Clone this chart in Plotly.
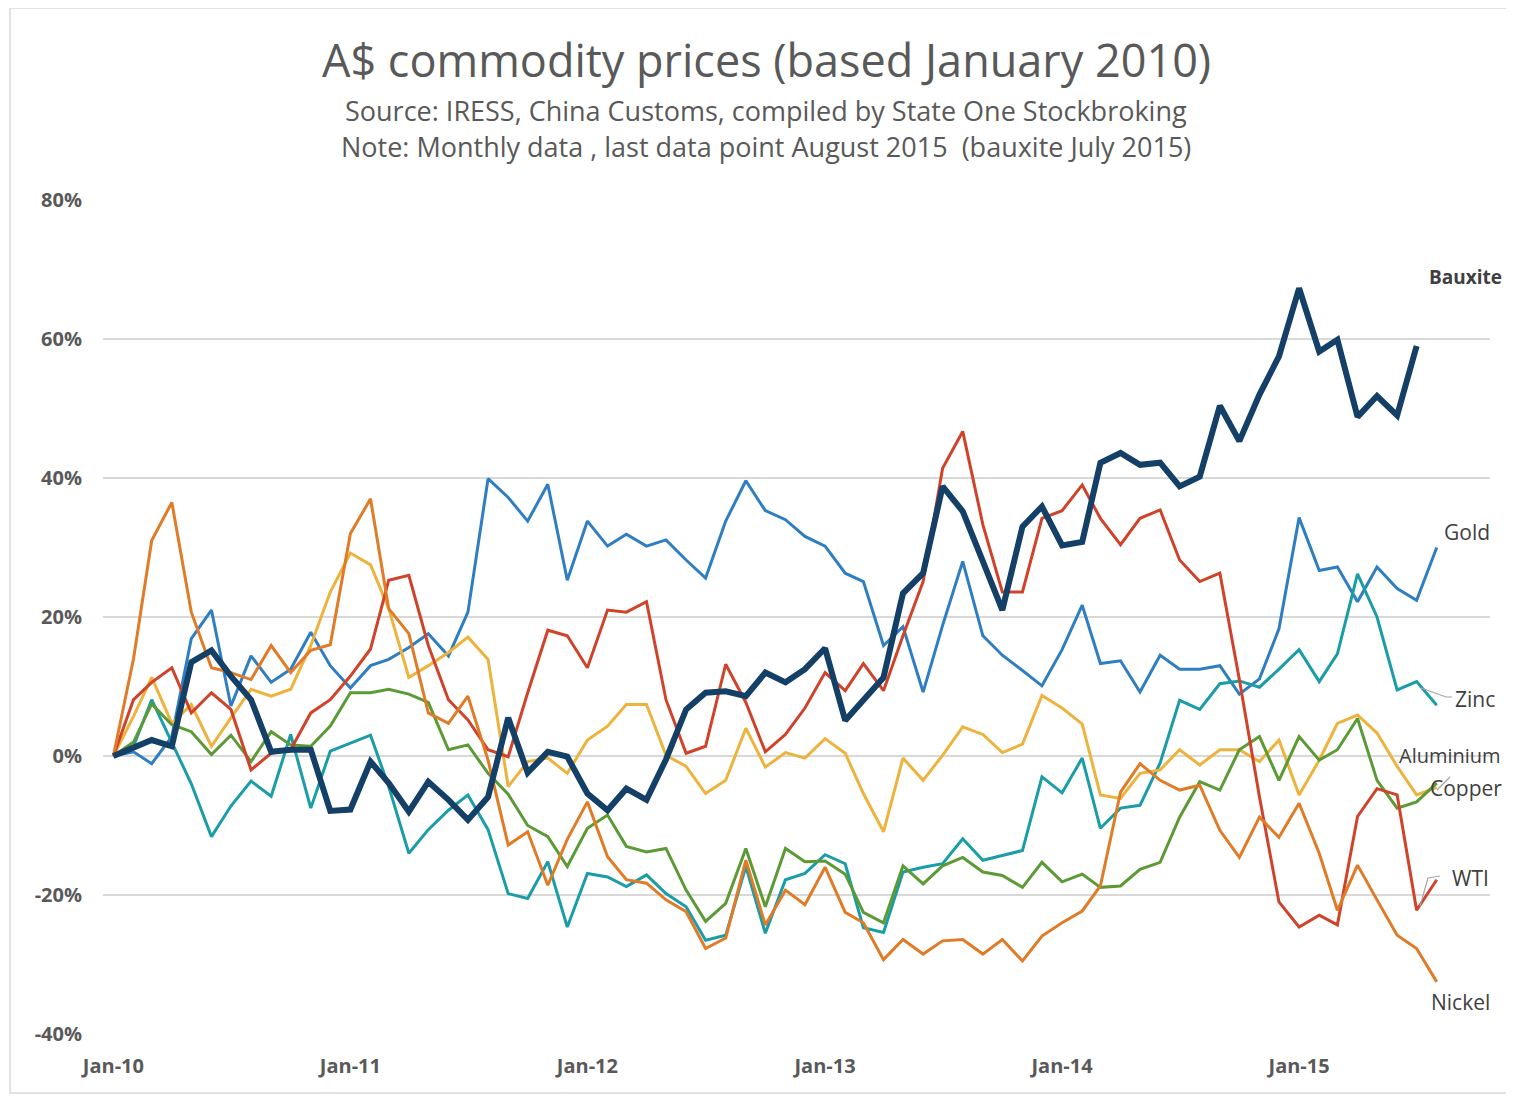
import pandas as pd
import plotly.graph_objects as go

months = pd.date_range("2010-01-01", periods=68, freq="MS")
tick_vals = pd.date_range("2010-01-01", periods=6, freq="12MS")
tick_text = ["Jan-10", "Jan-11", "Jan-12", "Jan-13", "Jan-14", "Jan-15"]
y_ticks = [-40, -20, 0, 20, 40, 60, 80]
y_text = ["-40%", "-20%", "0%", "20%", "40%", "60%", "80%"]

gold = [0, 0.6, -1.1, 2.8, 16.9, 21, 7.2, 14.4, 10.6, 12.5, 17.8, 13,
        9.8, 13, 13.9, 15.6, 17.6, 14.4, 20.7, 39.9, 37.2, 33.8, 39.1, 25.3,
        33.8, 30.2, 31.9, 30.2, 31.1, 28.2, 25.6, 33.8, 39.6, 35.3, 34, 31.6,
        30.2, 26.3, 25.1, 15.9, 18.6, 9.2, 18.8, 28, 17.3, 14.5, 12.3, 10.1,
        15.3, 21.7, 13.3, 13.7, 9.2, 14.5, 12.5, 12.5, 13, 8.9, 11.1, 18.3,
        34.3, 26.7, 27.2, 22.2, 27.2, 24.1, 22.4, 30]
zinc = [0, 1.4, 8.1, 2, -4, -11.6, -7.2, -3.6, -5.8, 3.1, -7.5, 0.7,
        1.8, 3, -4.4, -14, -10.6, -7.8, -5.6, -10.6, -19.8, -20.5, -15.2, -24.6,
        -16.9, -17.4, -18.8, -17.1, -19.8, -21.7, -26.5, -25.8, -15.9, -25.5, -17.8, -16.9,
        -14.2, -15.5, -24.7, -25.4, -16.7, -16, -15.5, -11.9, -15, -14.3, -13.6, -3,
        -5.3, -0.3, -10.4, -7.5, -7.1, -1, 8, 6.7, 10.4, 10.8, 9.9, 12.5,
        15.3, 10.7, 14.7, 26.2, 20, 9.5, 10.7, 7.3]
aluminium = [0, 5.7, 11.3, 4.7, 7.4, 1.4, 5.5, 9.6, 8.6, 9.6, 15.9, 23.6,
             29.2, 27.5, 21.2, 11.3, 13, 14.9, 17.1, 13.9, -4.4, -0.8, -0.3, -2.5,
             2.3, 4.3, 7.4, 7.4, 0.1, -1.5, -5.4, -3.5, 4, -1.6, 0.5, -0.3,
             2.5, 0.4, -5.4, -10.9, -0.3, -3.5, 0.1, 4.2, 3.1, 0.5, 1.7, 8.7,
             6.9, 4.6, -5.6, -6.1, -2.5, -2, 0.9, -1.3, 0.9, 0.9, -0.8, 2.3,
             -5.6, -0.6, 4.7, 5.9, 3.3, -1.5, -5.6, -4.5]
copper = [0, 2, 7.5, 4.5, 3.5, 0.2, 3, -0.8, 3.5, 1.6, 1.4, 4.3,
          9.1, 9.1, 9.6, 8.9, 7.7, 0.9, 1.6, -2.5, -5.5, -10, -11.6, -15.9,
          -10.4, -8.5, -13, -13.8, -13.3, -19.3, -23.8, -21.2, -13.3, -21.7, -13.3, -15.2,
          -15.1, -17, -22.5, -24, -15.8, -18.4, -15.8, -14.6, -16.7, -17.2, -18.9, -15.3,
          -18.1, -17, -18.9, -18.7, -16.3, -15.3, -8.8, -3.7, -4.9, 0.9, 2.8, -3.5,
          2.8, -0.6, 0.9, 5.4, -3.5, -7.5, -6.6, -3.9]
wti = [0, 8.1, 10.6, 12.7, 6.2, 9.1, 6.7, -2, 0.4, 0.9, 6.2, 8.1,
       11.5, 15.4, 25.3, 26, 15.9, 8.1, 5.2, 0.9, -0.1, 9.1, 18.1, 17.3,
       12.7, 21, 20.7, 22.2, 8.1, 0.4, 1.4, 13.2, 7.7, 0.6, 3.1, 6.9,
       12, 9.4, 13.3, 9.4, 17.3, 25.1, 41.4, 46.7, 33.3, 23.6, 23.6, 34.2,
       35.3, 39, 34.2, 30.4, 34.2, 35.4, 28.2, 25.1, 26.3, 11, -5.9, -21,
       -24.6, -22.9, -24.3, -8.7, -4.7, -5.6, -22.2, -17.8]
nickel = [0, 14, 31, 36.5, 20.7, 12.7, 12, 11, 15.9, 12, 15.2, 16,
          32, 37, 21.2, 17.6, 6.2, 4.7, 8.6, -0.6, -12.8, -10.9, -18.6, -12,
          -6.6, -14.5, -17.8, -18.3, -20.7, -22.4, -27.7, -26.2, -15, -24.3, -19.3, -21.4,
          -16, -22.5, -24, -29.3, -26.4, -28.5, -26.6, -26.4, -28.5, -26.4, -29.5, -25.9,
          -24, -22.3, -18.7, -5.2, -1.1, -3.5, -4.9, -4.2, -10.7, -14.6, -8.8, -11.7,
          -6.8, -14, -22.2, -15.7, -20.7, -25.8, -27.7, -32.5]
bauxite = [0, 1.1, 2.3, 1.4, 13.5, 15.2, 11.5, 8.1, 0.6, 0.9, 0.9, -7.9,
           -7.7, -0.8, -3.9, -8, -3.7, -6.3, -9.2, -5.9, 5.5, -2.4, 0.6, -0.1,
           -5.4, -7.8, -4.7, -6.3, -0.5, 6.7, 9.1, 9.3, 8.6, 12, 10.6, 12.5,
           15.5, 5.1, 8.2, 11.3, 23.4, 26.3, 38.8, 35.2, 28, 21, 33, 35.9,
           30.3, 30.8, 42.2, 43.6, 41.9, 42.2, 38.8, 40.2, 50.4, 45.3, 52, 57.5,
           67.3, 58.2, 59.9, 48.8, 51.8, 49, 59]

series = [
    ("Gold", gold, "#2E7EC1", 3),
    ("Zinc", zinc, "#1A9DA6", 3),
    ("Aluminium", aluminium, "#EDB33C", 3),
    ("Copper", copper, "#5C9A36", 3),
    ("WTI", wti, "#D0432B", 3),
    ("Nickel", nickel, "#E07B27", 3),
    ("Bauxite", bauxite, "#143F66", 6),
]

FONT = "Open Sans"
GREY = "#595959"

fig = go.Figure()
for name, vals, color, w in series:
    fig.add_trace(go.Scatter(
        x=months[:len(vals)], y=vals, mode="lines", name=name,
        line=dict(color=color, width=w), hoverinfo="x+y+name"))

# page has an 8px body margin; reference-pixel geometry is shifted by it
OFF = 8
W, H = 1514 - OFF, 1097 - OFF
L, R, T, B = 103, 1490, 200, 1034   # plot area in reference pixels


def px(x):
    return (x - L) / (R - L)


def py(y):
    return (B - y) / (B - T)


annotations = []
annotations.append(dict(text="A$ commodity prices (based January 2010)", x=px(766), y=py(60),
                        xref="paper", yref="paper", showarrow=False,
                        xanchor="center", yanchor="middle",
                        font=dict(family=FONT, size=45, color=GREY)))
annotations.append(dict(text="Source: IRESS, China Customs, compiled by State One Stockbroking",
                        x=px(766), y=py(110), xref="paper", yref="paper", showarrow=False,
                        xanchor="center", yanchor="middle",
                        font=dict(family=FONT, size=27, color=GREY)))
annotations.append(dict(text="Note: Monthly data , last data point August 2015  (bauxite July 2015)",
                        x=px(766), y=py(147), xref="paper", yref="paper", showarrow=False,
                        xanchor="center", yanchor="middle",
                        font=dict(family=FONT, size=27, color=GREY)))

labels = [
    ("<b>Bauxite</b>", 1465, 277, 19),
    ("Gold", 1467, 532, 21),
    ("Zinc", 1475, 699, 21),
    ("Aluminium", 1450, 755, 20),
    ("Copper", 1466, 788, 21),
    ("WTI", 1470, 878, 21),
    ("Nickel", 1460, 1002, 21),
]
for t, x, y, s in labels:
    annotations.append(dict(text=t, x=px(x), y=py(y), xref="paper", yref="paper",
                            showarrow=False, xanchor="center", yanchor="middle",
                            font=dict(family=FONT, size=s, color="#404040")))

shapes = [
    dict(type="rect", xref="paper", yref="paper", x0=px(10), x1=px(1509), y0=py(1093), y1=py(8),
         line=dict(color="#D9D9D9", width=1.5)),
    dict(type="path", xref="paper", yref="paper",
         path=f"M {px(1421)} {py(688)} L {px(1446)} {py(697)} L {px(1452)} {py(697)}",
         line=dict(color="#A6A6A6", width=1.2)),
    dict(type="path", xref="paper", yref="paper",
         path=f"M {px(1420)} {py(906)} L {px(1428)} {py(878)} L {px(1440)} {py(876)}",
         line=dict(color="#A6A6A6", width=1.2)),
    dict(type="path", xref="paper", yref="paper",
         path=f"M {px(1437)} {py(790)} L {px(1450)} {py(777)}",
         line=dict(color="#A6A6A6", width=1.2)),
]

fig.update_layout(
    width=W, height=H,
    margin=dict(l=L - OFF, r=W - (R - OFF), t=T - OFF, b=H - (B - OFF)),
    paper_bgcolor="white", plot_bgcolor="white",
    showlegend=False,
    annotations=annotations, shapes=shapes,
    font=dict(family=FONT, color=GREY),
    xaxis=dict(
        range=[pd.Timestamp("2009-12-16"), pd.Timestamp("2015-10-22")],
        tickvals=tick_vals, ticktext=tick_text, showgrid=False, zeroline=False,
        showline=False, ticks="", tickfont=dict(family=FONT, size=20, color=GREY, weight="bold"),
        ticklabelstandoff=18),
    yaxis=dict(
        range=[-40, 80], tickvals=y_ticks, ticktext=y_text, showgrid=True,
        gridcolor="#D9D9D9", gridwidth=1.5, zeroline=False, showline=False, ticks="",
        tickfont=dict(family=FONT, size=20, color=GREY, weight="bold"),
        ticklabelstandoff=20),
)

fig.write_html("out.html")
